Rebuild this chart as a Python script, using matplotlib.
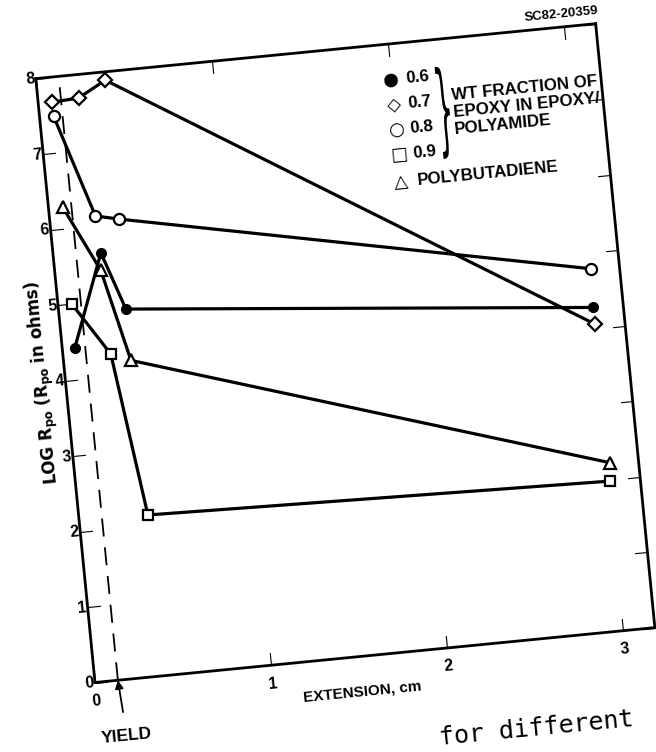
import matplotlib
matplotlib.use("Agg")
import matplotlib.pyplot as plt
from matplotlib.transforms import Affine2D
from matplotlib.textpath import TextPath
from matplotlib.patches import PathPatch
from matplotlib.font_manager import FontProperties
import mpl_toolkits.axisartist.floating_axes as floating_axes
from mpl_toolkits.axisartist.grid_finder import FixedLocator, DictFormatter

plt.rcParams['font.family'] = ['Liberation Sans', 'DejaVu Sans']

# extension (cm) and log Rpo for each sample
ext_06 = [0.07, 0.27, 0.38, 3.01]
log_06 = [4.41, 5.63, 4.86, 4.28]
ext_07 = [0.08, 0.23, 0.39, 3.01]
log_07 = [7.67, 7.69, 7.89, 4.06]
ext_08 = [0.08, 0.26, 0.39, 3.02]
log_08 = [7.48, 6.12, 6.05, 4.79]
ext_09 = [0.08, 0.27, 0.39, 3.01]
log_09 = [4.99, 4.29, 2.13, 1.98]
ext_pb = [0.08, 0.26, 0.38, 3.02]
log_pb = [6.28, 5.40, 4.18, 2.22]

yield_ext = 0.13
x_ticks = [0, 1, 2, 3]
y_ticks = [0, 1, 2, 3, 4, 5, 6, 7, 8]
x_max, y_max = 3.18, 8

# the scanned page is tilted a little, so the axes are drawn rotated
ANGLE = 5.6
tr = Affine2D().scale(176.9, 75.85).rotate_deg(ANGLE)

fig = plt.figure(figsize=(6.56, 7.52), dpi=100)

grid_helper = floating_axes.GridHelperCurveLinear(
    tr, extremes=(0, x_max, 0, y_max),
    grid_locator1=FixedLocator(x_ticks),
    grid_locator2=FixedLocator(y_ticks),
    tick_formatter1=DictFormatter({t: str(t) for t in x_ticks}),
    tick_formatter2=DictFormatter({t: str(t) for t in y_ticks}))

# place the axes so one host unit is one pixel
corners = tr.transform([(0, 0), (x_max, 0), (0, y_max), (x_max, y_max)])
lo, hi = corners.min(0), corners.max(0)
w, h = (hi - lo) * 1.02
cx, cy = (lo + hi) / 2
ox, oy = 95, 752 - 682.5
rect = [(ox + cx - w / 2) / 656, (oy + cy - h / 2) / 752, w / 656, h / 752]
ax = fig.add_axes(rect, axes_class=floating_axes.FloatingAxes,
                  grid_helper=grid_helper)
ax.patch.set_visible(False)
aux = ax.get_aux_axes(tr)

for side in ["left", "right", "bottom", "top"]:
    ax.axis[side].line.set_linewidth(2)
    ax.axis[side].major_ticks.set_ticksize(9)
    ax.axis[side].major_ticks.set_linewidth(1.6)
for side in ["left", "bottom"]:
    ax.axis[side].major_ticklabels.set_fontsize(11.5)
    ax.axis[side].major_ticklabels.set_fontweight("bold")
ax.axis["left"].major_ticklabels.set_pad(1)
ax.axis["bottom"].major_ticklabels.set_pad(8)

ax.axis["left"].label.set_text(r"LOG R$_{\mathbf{po}}$ (R$_{\mathbf{po}}$ in ohms)")
ax.axis["left"].label.set_fontsize(12)
ax.axis["left"].label.set_fontweight("bold")
ax.axis["left"].label.set_family("DejaVu Sans")
ax.axis["left"].label.set_pad(-1)

# x label sits a little left of the axis middle on the original
aux.text(1.5, -0.47, "EXTENSION, cm", rotation=ANGLE, rotation_mode="anchor",
         fontsize=11, fontweight="bold", ha="center", va="center")

lw, ms = 2.3, 8
aux.plot(ext_07, log_07, color="k", lw=lw, marker="D", ms=ms - 1,
         mfc="white", mec="k", mew=1.6, zorder=3)
aux.plot(ext_08, log_08, color="k", lw=lw, marker="o", ms=ms,
         mfc="white", mec="k", mew=1.6, zorder=3)
aux.plot(ext_pb, log_pb, color="k", lw=lw, marker="^", ms=ms + 1,
         mfc="white", mec="k", mew=1.6, zorder=3)
aux.plot(ext_09, log_09, color="k", lw=lw, marker="s", ms=ms - 1,
         mfc="white", mec="k", mew=1.6, zorder=3)
aux.plot(ext_06, log_06, color="k", lw=lw, marker="o", ms=ms - 1,
         mfc="k", mec="k", zorder=4)

# yield line
aux.plot([yield_ext, yield_ext], [0, y_max], color="k", lw=1.3,
         ls=(0, (10, 6)), zorder=2)
aux.annotate("YIELD", xy=(yield_ext, 0), xytext=(yield_ext + 0.02, -0.74),
             ha="center", va="center", rotation=ANGLE, fontsize=12.5,
             fontweight="bold", annotation_clip=False,
             arrowprops=dict(arrowstyle="-|>", color="k", lw=1.3,
                             shrinkA=8, shrinkB=0, mutation_scale=12))

# legend written out as on the original figure
tk = dict(rotation=ANGLE, rotation_mode="anchor", fontsize=12.2,
          fontweight="bold", va="center", ha="left")
sk = dict(rotation=ANGLE, rotation_mode="anchor", fontsize=13,
          family="DejaVu Sans", va="center", ha="center")
rows = [("\u25CF", "0.6"), ("\u25C7", "0.7"), ("\u25CB", "0.8"), ("\u25A1", "0.9")]
for i, (sym, lab) in enumerate(rows):
    yy = 7.52 - 0.33 * i
    aux.text(2.0, yy, sym, **sk)
    aux.text(2.08, yy, lab, **tk)
aux.text(2.0, 6.17, "\u25B3", **sk)
aux.text(2.09, 6.17, "POLYBUTADIENE", **tk)

# curly brace grouping the epoxy fractions
brace = TextPath((0, 0), "}", size=1, prop=FontProperties(family="DejaVu Sans"))
bb = brace.get_extents()
to_box = (Affine2D().translate(-bb.x0, -bb.y0)
          .scale(0.06 / bb.width, 1.22 / bb.height).translate(2.25, 6.42))
aux.add_patch(PathPatch(brace, transform=to_box + aux.transData,
                        fc="k", ec="none"))
aux.text(2.33, 7.02, "WT FRACTION OF\nEPOXY IN EPOXY/\nPOLYAMIDE",
         linespacing=1.15, **tk)

aux.text(2.99, 8.17, "SC82-20359", rotation=ANGLE, rotation_mode="anchor",
         fontsize=9.5, fontweight="bold", ha="center", va="center")

fig.text(440 / 656, 1 - 745 / 752, "for different", family="DejaVu Sans Mono",
         fontsize=18, rotation=ANGLE, rotation_mode="anchor",
         ha="left", va="baseline")

fig.savefig("out.png", dpi=100)
